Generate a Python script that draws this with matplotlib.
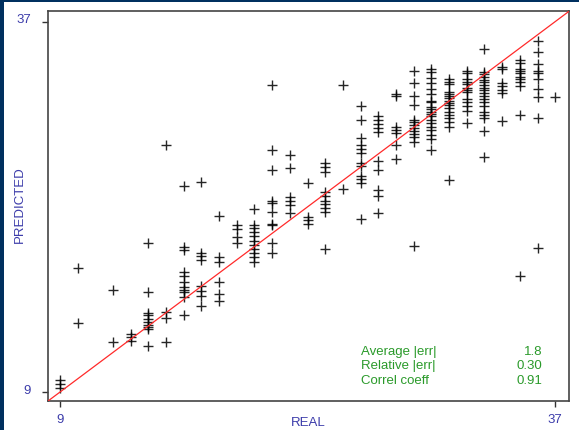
import matplotlib.pyplot as plt
from matplotlib.transforms import offset_copy

plt.rcParams['font.family'] = ['Liberation Sans', 'DejaVu Sans']

# measured (REAL) levels and the predictions made at each level
real_levels = [9, 10, 12, 13, 14, 15, 16, 17, 18, 19, 20, 21, 22, 23, 24, 25,
               26, 27, 28, 29, 30, 31, 32, 33, 34, 35, 36, 37]
predicted = [
    [9.9, 9.65, 9.35],
    [18.4, 14.2],
    [16.75, 12.8],
    [13.4, 13.15, 12.9],
    [20.25, 16.6, 15.0, 14.8, 14.55, 14.3, 14.1, 13.95, 13.8, 12.45],
    [27.7, 15.05, 14.6, 12.8],
    [24.6, 20.0, 19.75, 18.05, 17.8, 17.3, 16.95, 16.75, 16.6, 16.2, 14.8],
    [24.9, 19.55, 19.3, 19.0, 17.05, 16.65, 16.3, 15.5],
    [22.3, 19.2, 18.85, 17.35, 16.4, 15.85],
    [21.65, 21.3, 20.75, 20.25],
    [22.85, 21.65, 21.4, 21.1, 20.8, 20.45, 20.15, 19.8, 19.5, 19.2, 18.85],
    [32.2, 27.3, 25.8, 23.45, 23.3, 22.6, 21.7, 21.6, 20.3, 19.5],
    [26.9, 25.95, 23.75, 23.45, 23.15, 22.5],
    [24.8, 22.25, 22.0, 21.7],
    [26.3, 26.0, 25.65, 24.1, 23.85, 23.45, 23.2, 22.9, 22.6, 19.8],
    [32.2, 24.35],
    [30.65, 29.55, 28.2, 27.65, 27.4, 27.05, 26.3, 26.05, 25.35, 25.1, 24.8, 22.05],
    [29.9, 29.6, 29.25, 28.95, 28.65, 26.45, 25.8, 24.3, 23.85, 22.55],
    [31.55, 31.35, 29.0, 28.8, 28.55, 27.7, 26.6],
    [33.3, 32.35, 31.4, 30.7, 29.6, 29.4, 29.15, 28.95, 28.75, 28.5, 28.25, 27.9, 20.05],
    [33.4, 33.2, 32.7, 32.35, 31.9, 31.55, 31.0, 30.9, 30.55, 30.4, 30.2, 30.0,
     29.85, 29.6, 29.35, 29.05, 28.8, 28.45, 28.1, 27.3],
    [32.65, 32.45, 32.25, 31.7, 31.55, 31.4, 31.2, 31.0, 30.85, 30.7, 30.5, 30.2,
     29.95, 29.7, 29.4, 29.05, 25.05],
    [33.3, 33.1, 32.65, 32.4, 32.3, 31.95, 31.8, 31.7, 31.15, 30.9, 30.6, 30.25, 29.3],
    [34.95, 33.2, 33.05, 32.8, 32.6, 32.4, 32.2, 32.0, 31.85, 31.6, 31.4, 31.15,
     30.9, 30.65, 30.15, 29.95, 29.75, 28.7, 26.75],
    [33.6, 33.45, 32.35, 32.15, 31.8, 31.6, 29.5],
    [34.1, 33.9, 33.45, 33.3, 33.15, 32.8, 32.65, 32.45, 32.15, 29.95, 17.75],
    [35.5, 34.7, 33.8, 33.25, 33.1, 32.65, 31.9, 31.3, 29.7, 19.9],
    [31.3],
]

stat_names = ["Average |err|", "Relative |err|", "Correl coeff"]
stat_values = ["1.8", "0.30", "0.91"]
axis_ticks = [9, 37]

blue = '#3c3caa'
green = '#2a9a2a'

fig = plt.figure(figsize=(5.79, 4.31), dpi=100)
fig.patch.set_facecolor('#00305f')
# white panel leaving a thin navy edge on top and left
fig.add_artist(plt.Rectangle((4 / 579, 0), 1, 1 - 3 / 431, transform=fig.transFigure,
                             facecolor='white', edgecolor='none', zorder=0))

ax = fig.add_axes([47.5 / 579, 1 - 402 / 431, 521 / 579, 390 / 431])
ax.set_facecolor('white')

xs, ys = [], []
for r, preds in zip(real_levels, predicted):
    xs += [r] * len(preds)
    ys += preds
ax.plot(xs, ys, '+', color='black', markersize=6.5, markeredgewidth=1.0, alpha=0.85)

ax.set_xlim(8.3, 37.75)
ax.set_ylim(8.33, 37.8)
ax.plot([8.0, 38.0], [8.0, 38.0], color='#ff2a2a', linewidth=0.9, zorder=3)

ax.set_xticks(axis_ticks)
ax.set_yticks(axis_ticks)
ax.tick_params(direction='out', length=4, width=1, color='#333333',
               labelcolor=blue, labelsize=9.5)
ax.tick_params(axis='y', pad=8)
ax.tick_params(axis='x', pad=5)
for lab in ax.get_yticklabels():
    lab.set_transform(offset_copy(lab.get_transform(), fig=fig, x=0, y=4, units='dots'))

for s in ax.spines.values():
    s.set_color('#444444')
    s.set_linewidth(1.2)

ax.set_xlabel('REAL', color=blue, fontsize=9.5)
ax.set_ylabel('PREDICTED', color=blue, fontsize=9.5)
ax.xaxis.label.set_va('center')
ax.yaxis.label.set_va('center')
ax.xaxis.set_label_coords(0.5, -0.054)
ax.yaxis.set_label_coords(-0.053, 0.505)

rows_y = [0.129, 0.093, 0.055]
for name, val, yy in zip(stat_names, stat_values, rows_y):
    ax.text(0.602, yy, name, transform=ax.transAxes, color=green,
            fontsize=9.5, va='center', ha='left')
    ax.text(0.9505, yy, val, transform=ax.transAxes, color=green,
            fontsize=9.5, va='center', ha='right')

fig.savefig('out.png', dpi=100, facecolor=fig.get_facecolor())
